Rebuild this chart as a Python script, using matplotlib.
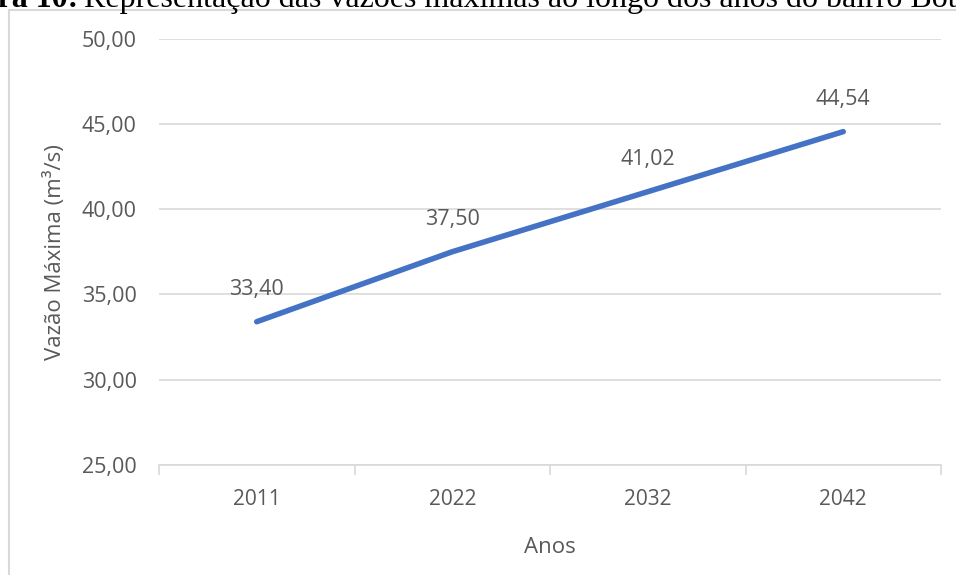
import matplotlib.pyplot as plt
from matplotlib.patches import Rectangle

# dados
anos = ['2011', '2022', '2032', '2042']
vazoes = [33.40, 37.50, 41.02, 44.54]
yticks = [25, 30, 35, 40, 45, 50]

cor_linha = '#4472C4'
cor_texto = '#595959'
cor_grade = '#D9D9D9'

plt.rcParams['font.family'] = ['Open Sans', 'DejaVu Sans']

fig = plt.figure(figsize=(9.56, 5.75), dpi=100)
ax = fig.add_axes([159 / 956, 1 - 465 / 575, 782 / 956, 426.5 / 575])

# moldura do grafico
fig.patches.append(Rectangle((9 / 956, -0.1), 1.1, 1 - 10 / 575 + 0.1,
                             transform=fig.transFigure, fill=False,
                             edgecolor=cor_grade, linewidth=1.5))

# titulo cortado no topo
fig.text(78 / 956, 1 - 6.5 / 575, 'Figura 10:', ha='right', va='baseline',
         family='Liberation Serif', fontweight='bold', fontsize=23, color='black')
fig.text(84 / 956, 1 - 6.5 / 575,
         'Representação das vazões máximas ao longo dos anos do bairro Botafogo',
         ha='left', va='baseline', family='Liberation Serif', fontsize=23, color='black')

x = list(range(len(anos)))
ax.plot(x, vazoes, color=cor_linha, linewidth=4, solid_capstyle='round')

for xi, v in zip(x, vazoes):
    ax.annotate(f'{v:.2f}'.replace('.', ','), (xi, v), xytext=(0, 23),
                textcoords='offset points', ha='center', va='center',
                fontsize=15.5, color=cor_texto)

ax.set_xlim(-0.5, len(anos) - 0.5)
ax.set_ylim(25, 50)
ax.set_yticks(yticks)
ax.set_yticklabels([f'{t:.2f}'.replace('.', ',') for t in yticks])
ax.set_xticks(x)
ax.set_xticklabels(anos)
ax.set_xticks([i - 0.5 for i in range(len(anos) + 1)], minor=True)

ax.grid(axis='y', color=cor_grade, linewidth=1.2)
ax.set_axisbelow(True)
for s in ['top', 'right', 'left']:
    ax.spines[s].set_visible(False)
ax.spines['bottom'].set_color(cor_grade)
ax.spines['bottom'].set_linewidth(1.2)

ax.tick_params(axis='y', length=0, pad=16, labelsize=15.5, labelcolor=cor_texto)
ax.tick_params(axis='x', which='major', length=0, pad=17, labelsize=15, labelcolor=cor_texto)
ax.tick_params(axis='x', which='minor', length=7, width=1.2, color=cor_grade)

ax.set_ylabel('Vazão Máxima (m³/s)', fontsize=16, color=cor_texto, labelpad=11)
ax.set_xlabel('Anos', fontsize=16, color=cor_texto, labelpad=20)

fig.savefig('out.png', dpi=100)
